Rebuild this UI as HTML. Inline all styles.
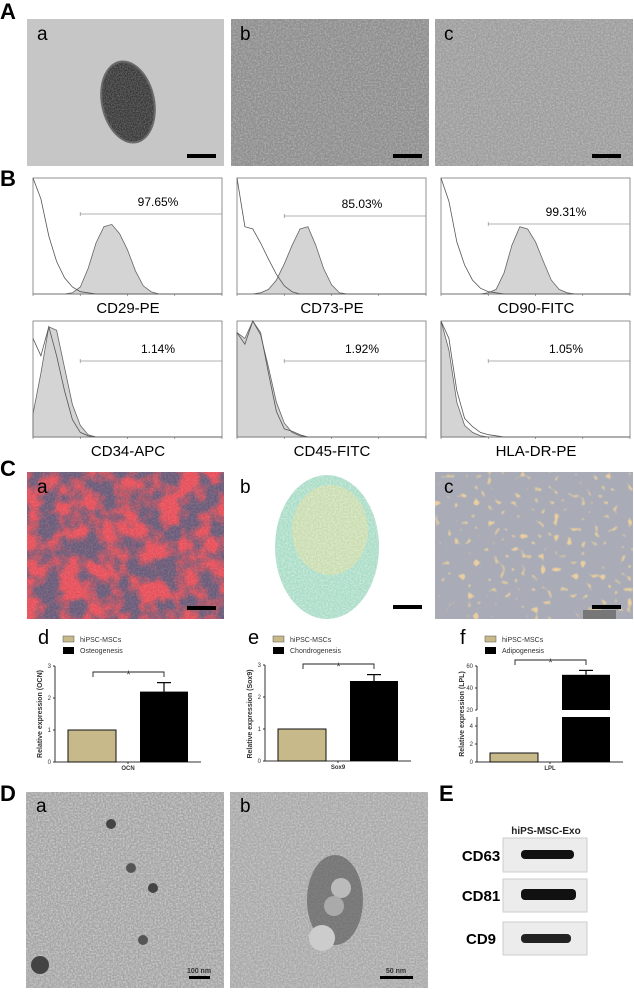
<!DOCTYPE html>
<html><head><meta charset="utf-8"><style>
html,body{margin:0;padding:0;background:#fff;}
svg{display:block;font-family:"Liberation Sans",sans-serif;}
.pl{font-weight:bold;font-size:22px;fill:#000;}
.il{font-size:19px;fill:#000;}
.fl{font-size:15px;fill:#000;}
.pc{font-size:12px;fill:#000;}
.tk{font-size:6px;fill:#333;}
.lg{font-size:7px;fill:#333;}
.yl{font-size:7px;fill:#333;font-weight:bold;}
.wb{font-size:15px;font-weight:bold;fill:#000;}
</style></head><body>
<svg id="fig" width="634" height="992" viewBox="0 0 634 992" xmlns="http://www.w3.org/2000/svg">
<defs>
<filter id="noise" x="0" y="0" width="100%" height="100%"><feTurbulence type="fractalNoise" baseFrequency="0.9" numOctaves="2" seed="3"/><feColorMatrix type="matrix" values="0 0 0 0 0  0 0 0 0 0  0 0 0 0 0  0 0 0 -1.2 0.9"/><feComposite in2="SourceGraphic" operator="in"/></filter>
<filter id="noise2" x="0" y="0" width="100%" height="100%"><feTurbulence type="fractalNoise" baseFrequency="0.6" numOctaves="2" seed="7"/><feColorMatrix type="matrix" values="0 0 0 0 1  0 0 0 0 1  0 0 0 0 1  0 0 0 -1.5 1.0"/><feComposite in2="SourceGraphic" operator="in"/></filter>
<filter id="red" x="0" y="0" width="100%" height="100%"><feTurbulence type="fractalNoise" baseFrequency="0.05" numOctaves="3" seed="11"/><feColorMatrix type="matrix" values="0 0 0 0 0.8  0 0 0 0 0.08  0 0 0 0 0.1  0 0 0 -3.5 2.2"/><feComposite in2="SourceGraphic" operator="in"/></filter>
<filter id="dots" x="0" y="0" width="100%" height="100%"><feTurbulence type="fractalNoise" baseFrequency="0.15" numOctaves="1" seed="21"/><feColorMatrix type="matrix" values="0 0 0 0 0.82  0 0 0 0 0.62  0 0 0 0 0.35  0 0 0 -8 3.0"/><feComposite in2="SourceGraphic" operator="in"/></filter>
</defs>

<!-- Panel A -->
<text class="pl" x="0" y="19">A</text>
<g>
<rect x="27" y="19" width="197" height="147" fill="#c6c6c6"/>
<ellipse cx="128" cy="102" rx="27" ry="42" fill="#6a6a6a" transform="rotate(-12 128 102)"/>
<ellipse cx="128" cy="102" rx="25" ry="40" fill="#bcbcbc" filter="url(#noise)" transform="rotate(-12 128 102)"/>
<text class="il" x="37" y="40">a</text>
<rect x="187" y="154" width="29" height="4" fill="#000"/>
</g>
<g>
<rect x="231" y="19" width="198" height="147" fill="#8d8d8d"/>
<rect x="231" y="19" width="198" height="147" fill="#bbb" filter="url(#noise2)" opacity="0.4"/>
<text class="il" x="240" y="40">b</text>
<rect x="393" y="154" width="29" height="4" fill="#000"/>
</g>
<g>
<rect x="435" y="19" width="198" height="147" fill="#9c9c9c"/>
<rect x="435" y="19" width="198" height="147" fill="#c8c8c8" filter="url(#noise2)" opacity="0.4"/>
<text class="il" x="444" y="40">c</text>
<rect x="592" y="154" width="29" height="4" fill="#000"/>
</g>

<!-- Panel B -->
<text class="pl" x="0" y="186">B</text>
<g id="flow"></g>

<!-- Panel C -->
<text class="pl" x="0" y="476">C</text>
<g>
<rect x="27" y="472" width="197" height="147" fill="#6a5a78"/>
<rect x="27" y="472" width="197" height="147" fill="#c01818" filter="url(#red)"/>
<rect x="27" y="472" width="197" height="147" fill="#ccc" filter="url(#noise2)" opacity="0.2"/>
<text class="il" x="37" y="493">a</text>
<rect x="187" y="606" width="29" height="4" fill="#000"/>
</g>
<g>
<ellipse cx="327" cy="547" rx="52" ry="72" fill="#a8dcc6"/>
<ellipse cx="330" cy="530" rx="38" ry="45" fill="#d6dba4" opacity="0.7"/>
<ellipse cx="327" cy="547" rx="52" ry="72" fill="#fff" filter="url(#noise2)" opacity="0.6"/>
<text class="il" x="240" y="493">b</text>
<rect x="393" y="605" width="29" height="4" fill="#000"/>
</g>
<g>
<rect x="435" y="472" width="198" height="147" fill="#a9acb6"/>
<rect x="435" y="472" width="198" height="147" fill="#d09040" filter="url(#dots)"/>
<text class="il" x="444" y="493">c</text>
<rect x="592" y="605" width="29" height="4" fill="#000"/>
<rect x="583" y="610" width="33" height="9" fill="#777"/>
</g>

<g id="bars"></g>

<!-- Panel D -->
<text class="pl" x="0" y="801">D</text>
<g>
<rect x="26" y="792" width="198" height="196" fill="#a3a3a3"/>
<rect x="26" y="792" width="198" height="196" fill="#d8d8d8" filter="url(#noise2)" opacity="0.6"/>
<circle cx="111" cy="824" r="5" fill="#444"/><circle cx="131" cy="868" r="5" fill="#555"/><circle cx="153" cy="888" r="5" fill="#444"/><circle cx="143" cy="940" r="5" fill="#555"/><circle cx="40" cy="965" r="9" fill="#444"/>
<text class="il" x="36" y="812">a</text>
<rect x="189" y="976" width="21" height="3" fill="#000"/>
<text class="tk" x="199" y="973" text-anchor="middle" style="font-size:7px;font-weight:bold">100 nm</text>
</g>
<g>
<rect x="230" y="792" width="198" height="196" fill="#a8a8a8"/>
<rect x="230" y="792" width="198" height="196" fill="#d8d8d8" filter="url(#noise2)" opacity="0.5"/>
<ellipse cx="335" cy="900" rx="28" ry="45" fill="#555" opacity="0.6"/>
<circle cx="341" cy="888" r="10" fill="#bbb"/><circle cx="334" cy="906" r="10" fill="#aaa"/><circle cx="322" cy="938" r="13" fill="#ccc"/>
<text class="il" x="240" y="812">b</text>
<rect x="380" y="976" width="33" height="3" fill="#000"/>
<text class="tk" x="396" y="973" text-anchor="middle" style="font-size:7px;font-weight:bold">50 nm</text>
</g>
<text class="pl" x="439" y="801">E</text>
<g>
<text x="546" y="834" text-anchor="middle" style="font-size:10px;font-weight:bold;fill:#222">hiPS-MSC-Exo</text>
<rect x="503" y="838" width="84" height="34" fill="#ececec" stroke="#ccc"/>
<rect x="521" y="850" width="53" height="9" rx="4" fill="#111"/>
<rect x="503" y="879" width="84" height="33" fill="#ececec" stroke="#ccc"/>
<rect x="521" y="889" width="55" height="11" rx="4" fill="#111"/>
<rect x="503" y="922" width="84" height="33" fill="#ececec" stroke="#ccc"/>
<rect x="521" y="934" width="50" height="9" rx="4" fill="#222"/>
<text class="wb" x="481" y="861" text-anchor="middle">CD63</text>
<text class="wb" x="481" y="901" text-anchor="middle">CD81</text>
<text class="wb" x="481" y="944" text-anchor="middle">CD9</text>
</g>
</svg>
<script>
// ---------- Flow cytometry data (25 bins, log10 0..4 step 1/6, fraction of plot height) ----------
const flowMarkers = ["CD29-PE","CD73-PE","CD90-FITC","CD34-APC","CD45-FITC","HLA-DR-PE"];
const flowPercents = ["97.65%","85.03%","99.31%","1.14%","1.92%","1.05%"];
const isoCD29 = [1.0,0.82,0.5,0.28,0.14,0.06,0.02,0.01,0,0,0,0,0,0,0,0,0,0,0,0,0,0,0,0,0];
const smpCD29 = [0,0,0,0,0,0.01,0.06,0.22,0.44,0.58,0.6,0.52,0.38,0.2,0.07,0.02,0,0,0,0,0,0,0,0,0];
const isoCD73 = [1.0,0.58,0.56,0.44,0.3,0.17,0.07,0.02,0,0,0,0,0,0,0,0,0,0,0,0,0,0,0,0,0];
const smpCD73 = [0,0,0,0.01,0.04,0.12,0.26,0.42,0.56,0.58,0.42,0.22,0.08,0.01,0,0,0,0,0,0,0,0,0,0,0];
const isoCD90 = [1.0,0.8,0.45,0.25,0.12,0.05,0.02,0.01,0,0,0,0,0,0,0,0,0,0,0,0,0,0,0,0,0];
const smpCD90 = [0,0,0,0,0,0,0.01,0.04,0.18,0.42,0.58,0.56,0.45,0.28,0.12,0.04,0.01,0,0,0,0,0,0,0,0];
const isoCD34 = [0.85,0.7,0.95,0.7,0.4,0.15,0.04,0.01,0,0,0,0,0,0,0,0,0,0,0,0,0,0,0,0,0];
const smpCD34 = [0.2,0.55,0.95,0.92,0.6,0.28,0.1,0.02,0,0,0,0,0,0,0,0,0,0,0,0,0,0,0,0,0];
const isoCD45 = [0.9,0.8,1.0,0.9,0.55,0.22,0.07,0.05,0.02,0,0,0,0,0,0,0,0,0,0,0,0,0,0,0,0];
const smpCD45 = [0.9,0.85,1.0,0.88,0.6,0.3,0.12,0.04,0.01,0,0,0,0,0,0,0,0,0,0,0,0,0,0,0,0];
const isoHLA = [1.0,0.85,0.4,0.16,0.09,0.04,0.02,0.01,0,0,0,0,0,0,0,0,0,0,0,0,0,0,0,0,0];
const smpHLA = [1.0,0.75,0.3,0.1,0.04,0.01,0,0,0,0,0,0,0,0,0,0,0,0,0,0,0,0,0,0,0];
const flowIso = [isoCD29,isoCD73,isoCD90,isoCD34,isoCD45,isoHLA];
const flowSmp = [smpCD29,smpCD73,smpCD90,smpCD34,smpCD45,smpHLA];
const gateStart = [1.0,1.0,1.0,1.0,1.0,1.0];

// ---------- Bar chart data ----------
const barGroups = ["OCN","Sox9","LPL"];
const barControl = [1,1,1];
const barTreated = [2.2,2.5,52];
const barError = [0.28,0.2,4];
const legendLabels = ["Osteogenesis","Chondrogenesis","Adipogenesis"];
const ticksD = [0,1,2,3];
const ticksF_low = [0,2,4];
const ticksF_high = [20,40,60];

const NS="http://www.w3.org/2000/svg";
function mk(tag,attrs,parent){const e=document.createElementNS(NS,tag);for(const k in attrs)e.setAttribute(k,attrs[k]);parent.appendChild(e);return e;}
function tx(str,attrs,parent){const e=mk("text",attrs,parent);e.textContent=str;return e;}

// ---- flow plots ----
const flowG=document.getElementById("flow");
const colX=[33,237,441], plotW=189, rowY=[178,321], plotH=116;
for(let p=0;p<6;p++){
  const cx=colX[p%3], cy=rowY[Math.floor(p/3)];
  const g=mk("g",{},flowG);
  
  
  const xs=l=>cx+l/4*plotW, ys=v=>cy+plotH-v*plotH;
  mk("rect",{x:cx,y:cy,width:plotW,height:plotH,fill:"#fff",stroke:"#777","stroke-width":0.8},g);
  let d="M"+xs(0)+","+ys(0);
  flowSmp[p].forEach((v,i)=>{d+=" L"+xs(i/6).toFixed(1)+","+ys(v).toFixed(1);});
  d+=" L"+xs(4)+","+ys(0)+"Z";
  mk("path",{d:d,fill:"#d4d4d4",stroke:"#666","stroke-width":0.8},g);
  let d2="";
  flowIso[p].forEach((v,i)=>{d2+=(i?" L":"M")+xs(i/6).toFixed(1)+","+ys(v).toFixed(1);});
  mk("path",{d:d2,fill:"none",stroke:"#555","stroke-width":0.8},g);
  for(let t=0;t<=4;t++){mk("line",{x1:xs(t),x2:xs(t),y1:cy+plotH,y2:cy+plotH+2,stroke:"#666","stroke-width":0.6},g);}
  const gy = p<3 ? [214,216,224][p] : cy+40;
  mk("line",{x1:xs(gateStart[p]),x2:cx+plotW,y1:gy,y2:gy,stroke:"#999","stroke-width":0.8},g);
  mk("line",{x1:xs(gateStart[p]),x2:xs(gateStart[p]),y1:gy-2,y2:gy+2,stroke:"#999","stroke-width":0.8},g);
  const pt=tx(flowPercents[p],{class:"pc",x:cx+125,y:gy-8,"text-anchor":"middle"},g);
  
  
  const lb=tx(flowMarkers[p],{class:"fl",x:cx+95,y:cy+plotH+19,"text-anchor":"middle"},g);
  
  
}

// ---- bar charts ----
const barsG=document.getElementById("bars");
const chartX=[55,265,477], letters=["d","e","f"], ends=[201,411,623];
for(let c=0;c<3;c++){
  const ax=chartX[c];
  const g=mk("g",{},barsG);
  
  
  tx(letters[c],{x:ax-17,y:644,style:"font-size:20px;fill:#000"},g);
  const lx=ax+8;
  const l1=mk("rect",{x:lx,y:636,width:11,height:6,fill:"#c8b98a",stroke:"#555","stroke-width":0.5},g);
  
  
  tx("hiPSC-MSCs",{class:"lg",x:lx+17,y:642},g);
  const l2=mk("rect",{x:lx,y:647,width:11,height:7,fill:"#000"},g);
  
  
  tx(legendLabels[c],{class:"lg",x:lx+17,y:653},g);
  let yv, brokenLow=null;
  if(c<2){
    const y0=c==0?762:761, y3=c==0?666:665;
    yv=v=>y0-(v/3)*(y0-y3);
    mk("line",{x1:ax,x2:ax,y1:y3,y2:y0,stroke:"#333","stroke-width":1},g);
    ticksD.forEach(t=>{mk("line",{x1:ax-2,x2:ax,y1:yv(t),y2:yv(t),stroke:"#333"},g);tx(String(t),{class:"tk",x:ax-4,y:yv(t)+2,"text-anchor":"end"},g);});
  } else {
    const low=v=>762-(v/5)*45, high=v=>710-((v-20)/40)*44;
    yv=v=>v<=5?low(v):high(v);
    brokenLow=low;
    mk("line",{x1:ax,x2:ax,y1:low(5),y2:762,stroke:"#333"},g);
    mk("line",{x1:ax,x2:ax,y1:666,y2:710,stroke:"#333"},g);
    ticksF_low.forEach(t=>{mk("line",{x1:ax-2,x2:ax,y1:low(t),y2:low(t),stroke:"#333"},g);tx(String(t),{class:"tk",x:ax-4,y:low(t)+2,"text-anchor":"end"},g);});
    ticksF_high.forEach(t=>{mk("line",{x1:ax-2,x2:ax,y1:high(t),y2:high(t),stroke:"#333"},g);tx(String(t),{class:"tk",x:ax-4,y:high(t)+2,"text-anchor":"end"},g);});
  }
  const base=yv(0);
  mk("line",{x1:ax,x2:ends[c],y1:base,y2:base,stroke:"#333"},g);
  const b1=mk("rect",{x:ax+13,y:yv(barControl[c]),width:48,height:base-yv(barControl[c]),fill:"#c8b98a",stroke:"#111","stroke-width":1},g);
  
  
  const bx=ax+85;
  if(brokenLow){
    const b2=mk("rect",{x:bx,y:yv(5),width:48,height:base-yv(5),fill:"#000"},g);
    
    
    const b3=mk("rect",{x:bx,y:yv(barTreated[c]),width:48,height:yv(20)-yv(barTreated[c]),fill:"#000"},g);
    
    
  } else {
    const b2=mk("rect",{x:bx,y:yv(barTreated[c]),width:48,height:base-yv(barTreated[c]),fill:"#000"},g);
    
    
  }
  const ey=yv(barTreated[c]+barError[c]);
  mk("line",{x1:bx+24,x2:bx+24,y1:ey,y2:yv(barTreated[c]),stroke:"#000","stroke-width":1.2},g);
  mk("line",{x1:bx+17,x2:bx+31,y1:ey,y2:ey,stroke:"#000","stroke-width":1.2},g);
  const by=[672,664,660][c];
  mk("path",{d:`M${ax+38},${by+5} V${by} H${bx+24} V${by+5}`,fill:"none",stroke:"#222","stroke-width":0.9},g);
  tx("*",{x:(ax+38+bx+24)/2,y:by+6,"text-anchor":"middle",style:"font-size:11px;fill:#333"},g);
  tx(barGroups[c],{class:"tk",x:(ax+13+bx+48)/2,y:base+8,"text-anchor":"middle",style:"font-size:6px;font-weight:bold"},g);
  mk("line",{x1:(ax+13+bx+48)/2,x2:(ax+13+bx+48)/2,y1:base,y2:base+2,stroke:"#333"},g);
  tx("Relative expression ("+barGroups[c]+")",{class:"yl",x:0,y:0,"text-anchor":"middle",transform:`translate(${ax-13},714) rotate(-90)`},g);
}
</script>
</body></html>
